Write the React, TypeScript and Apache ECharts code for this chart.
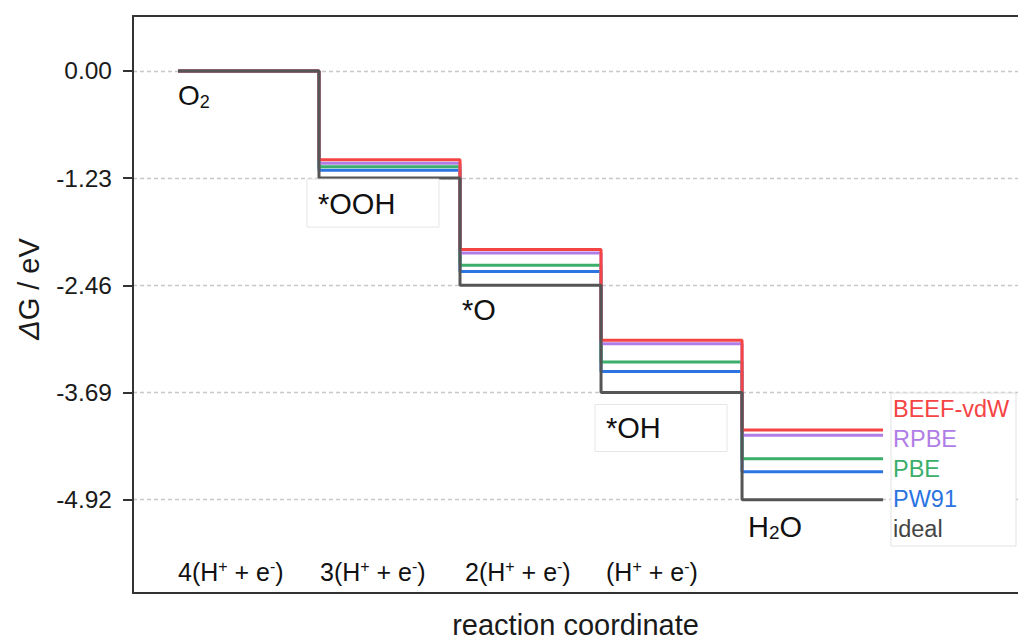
import React, { useEffect, useRef } from 'react';
import * as echarts from 'echarts';

// ---- data ----
const stepStarts = [0, 1, 2, 3, 4];
const idealLevels = [0, -1.23, -2.46, -3.69, -4.92];
const beefLevels = [0, -1.02, -2.05, -3.09, -4.12];
const rpbeLevels = [0, -1.06, -2.09, -3.13, -4.18];
const pbeLevels = [0, -1.1, -2.23, -3.34, -4.45];
const pw91Levels = [0, -1.14, -2.3, -3.45, -4.6];
const yTicks = [0, -1.23, -2.46, -3.69, -4.92];
const seriesNames = ['PW91', 'PBE', 'RPBE', 'BEEF-vdW', 'ideal'];
const seriesColors = ['#2b74e2', '#3aae6a', '#b07de6', '#f54444', '#555555'];
const legendOrder = ['BEEF-vdW', 'RPBE', 'PBE', 'PW91', 'ideal'];
const legendColors = ['#f54444', '#b07de6', '#3aae6a', '#2b74e2', '#454545'];
const electronCounts = ['4', '3', '2', ''];

const FONT = '"Liberation Sans", Arial, Helvetica, sans-serif';

function stepData(levels: number[]) {
  const pts: number[][] = [];
  levels.forEach((v, i) => {
    pts.push([stepStarts[i], v]);
    pts.push([stepStarts[i] + 1, v]);
  });
  return pts;
}

export default function App() {
  const ref = useRef<HTMLDivElement>(null);
  useEffect(() => {
    if (!ref.current) return;
    const chart = echarts.init(ref.current, undefined, { renderer: 'svg' });
    const allLevels = [pw91Levels, pbeLevels, rpbeLevels, beefLevels, idealLevels];
    const option: any = {
      animation: false,
      backgroundColor: '#ffffff',
      grid: { left: 133, right: 0, top: 16, bottom: 48, containLabel: false, outerBoundsMode: 'none' },
      xAxis: [
        {
          type: 'value',
          min: -0.319,
          max: 5.957,
          position: 'bottom',
          name: 'reaction coordinate',
          nameLocation: 'middle',
          nameGap: 17,
          nameTextStyle: { fontSize: 29, fontFamily: FONT, color: '#1a1a1a', lineHeight: 29 },
          axisLine: { show: true, onZero: false, lineStyle: { color: '#333', width: 2 } },
          axisTick: { show: false },
          axisLabel: { show: false },
          splitLine: { show: false },
        },
        {
          type: 'value',
          min: -0.319,
          max: 5.957,
          position: 'top',
          axisLine: { show: true, onZero: false, lineStyle: { color: '#333', width: 2 } },
          axisTick: { show: false },
          axisLabel: { show: false },
          splitLine: { show: false },
        },
      ],
      yAxis: {
        type: 'value',
        min: -5.99,
        max: 0.63,
        name: '{i|Δ}G / eV',
        nameLocation: 'middle',
        nameRotate: 90,
        nameGap: 90,
        nameTextStyle: {
          fontSize: 29,
          fontFamily: FONT,
          color: '#1a1a1a',
          padding: [0, 0, 0, 31],
          rich: { i: { fontSize: 29, fontFamily: FONT, fontStyle: 'italic', color: '#1a1a1a' } },
        },
        axisLine: { show: true, onZero: false, lineStyle: { color: '#333', width: 2 } },
        axisTick: { show: true, length: 10, customValues: yTicks, lineStyle: { color: '#333', width: 2 } },
        axisLabel: {
          customValues: yTicks,
          formatter: (v: number) => v.toFixed(2),
          fontSize: 24.5,
          fontFamily: FONT,
          color: '#1a1a1a',
          margin: 21,
        },
        splitLine: { show: true, lineStyle: { color: '#c8c8c8', type: [4, 3], width: 1.3 } },
      },
      legend: {
        show: true,
        orient: 'vertical',
        left: 888,
        top: 394,
        padding: 0,
        itemGap: 0,
        itemWidth: 0,
        itemHeight: 30,
        icon: 'none',
        selectedMode: false,
        textStyle: { fontSize: 23.5, fontFamily: FONT, lineHeight: 30 },
        data: legendOrder.map((n, i) => ({ name: n, icon: 'none', textStyle: { color: legendColors[i] } })),
        z: 10,
      },
      series: seriesNames.map((name, i) => ({
        name,
        type: 'line',
        data: stepData(allLevels[i]),
        symbol: 'none',
        showSymbol: false,
        lineStyle: { color: seriesColors[i], width: 3 },
        itemStyle: { color: seriesColors[i] },
        z: 2 + i * 0.01,
      })),
    };
    chart.setOption(option);

    const px = (x: number, y: number) => chart.convertToPixel({ xAxisIndex: 0, yAxisIndex: 0 }, [x, y]) as number[];
    const textStyleBase = { fontFamily: FONT, fill: '#111' };
    const graphics: any[] = [];

    // legend box
    graphics.push({
      type: 'rect',
      shape: { x: 891, y: 393, width: 125, height: 153 },
      style: { fill: '#ffffff', stroke: '#e2e2e2', lineWidth: 1 },
      z: 5,
    });

    // species labels
    const p0 = px(stepStarts[0], idealLevels[0]);
    graphics.push({
      type: 'text', x: p0[0], y: p0[1] + 25, z: 20,
      style: {
        ...textStyleBase, text: '{m|O}{s|2}', align: 'left', textAlign: 'left', verticalAlign: 'middle', textVerticalAlign: 'middle',
        rich: { m: { fontSize: 28, fontFamily: FONT, lineHeight: 30, fill: '#111', color: '#111' }, s: { fontSize: 18, fontFamily: FONT, lineHeight: 12, verticalAlign: 'bottom', fill: '#111', color: '#111' } },
      },
    });
    const p1 = px(stepStarts[1], idealLevels[1]);
    graphics.push({
      type: 'rect', shape: { x: p1[0] - 12, y: p1[1] + 1, width: 132, height: 48 },
      style: { fill: '#ffffff', stroke: '#e6e6e6', lineWidth: 1 }, z: 15,
    });
    graphics.push({
      type: 'text', x: p1[0] - 1, y: p1[1] + 26, z: 20,
      style: { ...textStyleBase, text: '*OOH', fontSize: 29, font: `29px ${FONT}`, align: 'left', textAlign: 'left', verticalAlign: 'middle', textVerticalAlign: 'middle' },
    });
    const p2 = px(stepStarts[2], idealLevels[2]);
    graphics.push({
      type: 'text', x: p2[0] + 2, y: p2[1] + 25, z: 20,
      style: { ...textStyleBase, text: '*O', fontSize: 29, font: `29px ${FONT}`, align: 'left', textAlign: 'left', verticalAlign: 'middle', textVerticalAlign: 'middle' },
    });
    const p3 = px(stepStarts[3], idealLevels[3]);
    graphics.push({
      type: 'rect', shape: { x: p3[0] - 6, y: p3[1] + 12, width: 132, height: 47 },
      style: { fill: '#ffffff', stroke: '#e6e6e6', lineWidth: 1 }, z: 15,
    });
    graphics.push({
      type: 'text', x: p3[0] + 5, y: p3[1] + 35, z: 20,
      style: { ...textStyleBase, text: '*OH', fontSize: 29, font: `29px ${FONT}`, align: 'left', textAlign: 'left', verticalAlign: 'middle', textVerticalAlign: 'middle' },
    });
    const p4 = px(stepStarts[4], idealLevels[4]);
    graphics.push({
      type: 'text', x: p4[0] + 6, y: p4[1] + 27, z: 20,
      style: {
        ...textStyleBase, text: '{m|H}{s|2}{m|O}', align: 'left', textAlign: 'left', verticalAlign: 'middle', textVerticalAlign: 'middle',
        rich: { m: { fontSize: 29, fontFamily: FONT, lineHeight: 30, fill: '#111', color: '#111' }, s: { fontSize: 19, fontFamily: FONT, lineHeight: 10, verticalAlign: 'bottom', fill: '#111', color: '#111' } },
      },
    });

    // electron-transfer labels along bottom
    const bottomOffsets = [0, 1, 5, 5];
    electronCounts.forEach((c, i) => {
      const p = px(stepStarts[i], -5.99);
      graphics.push({
        type: 'text', x: p[0] + bottomOffsets[i], y: p[1] - 21, z: 20,
        style: {
          ...textStyleBase,
          text: `{m|${c}(H}{s|+}{m| + e}{s|-}{m|)}`,
          align: 'left', textAlign: 'left', verticalAlign: 'middle', textVerticalAlign: 'middle',
          rich: {
            m: { fontSize: 25, fontFamily: FONT, lineHeight: 28, fill: '#111', color: '#111' },
            s: { fontSize: 16, fontFamily: FONT, lineHeight: 18, verticalAlign: 'top', fill: '#111', color: '#111' },
          },
        },
      });
    });

    chart.setOption({ graphic: { elements: graphics } });
    return () => chart.dispose();
  }, []);
  return <div ref={ref} style={{ position: 'fixed', left: 0, top: 0, width: 1018, height: 641 }} />;
}
